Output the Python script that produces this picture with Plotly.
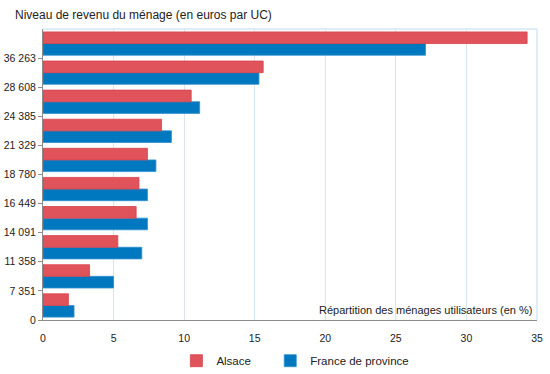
import plotly.graph_objects as go

tick_labels = ["0", "7 351", "11 358", "14 091", "16 449", "18 780", "21 329", "24 385", "28 608", "36 263"]
alsace = [1.8, 3.3, 5.3, 6.6, 6.8, 7.4, 8.4, 10.5, 15.6, 34.3]
france = [2.2, 5.0, 7.0, 7.4, 7.4, 8.0, 9.1, 11.1, 15.3, 27.1]
group_pos = [i + 0.5 for i in range(len(alsace))]
tick_pos = list(range(len(tick_labels)))

RED = "#e0535b"
BLUE = "#0078c0"
FONT = "Liberation Sans, Arial, sans-serif"

fig = go.Figure()
fig.add_trace(go.Bar(
    y=group_pos, x=france, orientation="h", name="France de province",
    marker=dict(color=BLUE, line=dict(color="#2f8fd0", width=0.8)),
    legend="legend2",
))
fig.add_trace(go.Bar(
    y=group_pos, x=alsace, orientation="h", name="Alsace",
    marker=dict(color=RED, line=dict(color="#d8424a", width=0.8)),
    legend="legend",
))

legend_common = dict(orientation="h", xanchor="left", y=-0.09, yanchor="top",
                     font=dict(size=11.5), itemwidth=30, bgcolor="rgba(0,0,0,0)")

fig.update_layout(
    width=550, height=374,
    margin=dict(l=43, r=13, t=29, b=54, autoexpand=False),
    paper_bgcolor="white", plot_bgcolor="white",
    barmode="group", bargap=0.2, bargroupgap=0,
    font=dict(family=FONT, size=11, color="#222222"),
    showlegend=True,
    legend=dict(x=0.27, **legend_common),
    legend2=dict(x=0.46, **legend_common),
    xaxis=dict(range=[0, 35], tickvals=[0, 5, 10, 15, 20, 25, 30, 35],
               showgrid=True, gridcolor="#d6e6f4", gridwidth=1,
               showline=True, linecolor="#8c8c8c", linewidth=1,
               ticks="", ticklabelstandoff=8, zeroline=False, fixedrange=True, automargin=False,
               tickfont=dict(size=10.5)),
    yaxis=dict(range=[0, 10], tickvals=tick_pos, ticktext=tick_labels,
               showgrid=False, showline=True, linecolor="#8c8c8c", linewidth=1,
               ticks="outside", ticklen=4, tickcolor="#8c8c8c", automargin=False,
               zeroline=False, fixedrange=True, tickfont=dict(size=10.5)),
    annotations=[
        dict(text="Niveau de revenu du ménage (en euros par UC)", xref="paper", yref="paper",
             x=-0.06, y=1.0, yshift=14, xanchor="left", yanchor="middle", showarrow=False,
             font=dict(size=12)),
        dict(text="Répartition des ménages utilisateurs (en %)", xref="paper", yref="paper",
             x=1.0, y=0.0, xshift=-3, yshift=10, xanchor="right", yanchor="middle", showarrow=False,
             font=dict(size=11)),
    ],
    shapes=[
        dict(type="line", xref="paper", yref="paper", x0=0, x1=1, y0=1, y1=1,
             line=dict(color="#d6e6f4", width=1.5)),
        dict(type="line", xref="paper", yref="paper", x0=1, x1=1, y0=0, y1=1,
             line=dict(color="#d6e6f4", width=1.5)),
    ],
)

fig.write_html("out.html", config={"displayModeBar": False},
               post_script="document.body.style.margin='0';")
